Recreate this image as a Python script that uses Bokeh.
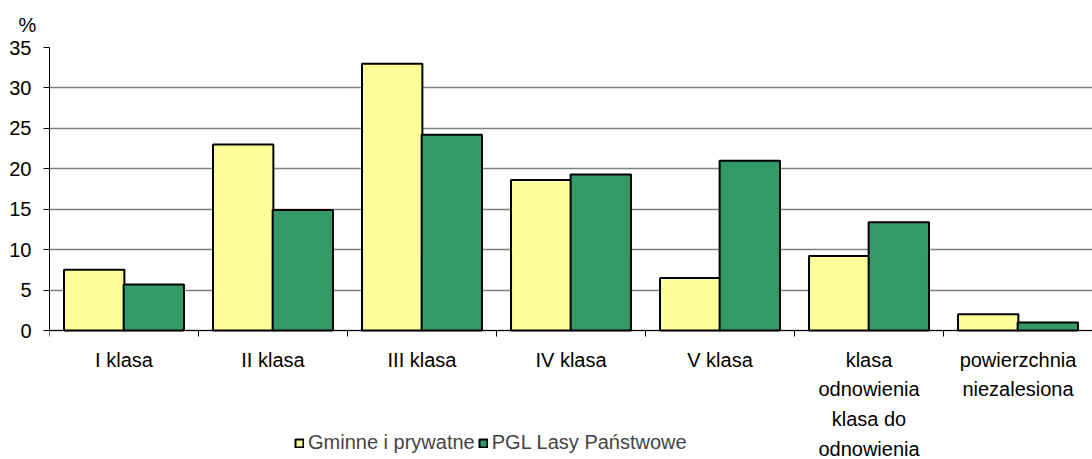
from bokeh.plotting import figure
from bokeh.models import FixedTicker, Legend, LegendItem, ColumnDataSource, Range1d, Title
from bokeh.transform import dodge
from bokeh.embed import file_html
from bokeh.resources import INLINE

categories = ["I klasa", "II klasa", "III klasa", "IV klasa", "V klasa",
              "klasa\nodnowienia\nklasa do\nodnowienia", "powierzchnia\nniezalesiona"]
gminne = [7.5, 23.0, 33.0, 18.6, 6.5, 9.2, 2.0]
pgl = [5.7, 14.9, 24.2, 19.3, 21.0, 13.4, 1.0]
series_names = ["Gminne i prywatne", "PGL Lasy Państwowe"]
y_ticks = [0, 5, 10, 15, 20, 25, 30, 35]
y_unit = "%"

FONT = "Liberation Sans"
FS = "20px"
YELLOW = "#FFFF99"
GREEN = "#339966"

# layout: plot area 283 px tall for 0..35, frame extended down to the page bottom
PLOT_H = 283
FRAME_H = 413
y_top = y_ticks[-1]
y_start = -y_top * (FRAME_H - PLOT_H) / PLOT_H

idx = list(range(len(categories)))
src = ColumnDataSource(dict(x=idx, g=gminne, p=pgl))

p = figure(frame_width=1043, frame_height=FRAME_H, output_backend="svg", toolbar_location=None,
           x_range=Range1d(-0.5, len(categories) - 0.5), y_range=Range1d(y_start, y_top),
           min_border_left=49, min_border_right=0, min_border_top=46, min_border_bottom=0)
p.outline_line_color = None
p.background_fill_color = "white"
p.border_fill_color = "white"

title = Title(text=y_unit, align="left", offset=-31, standoff=23,
              text_font=FONT, text_font_size=FS, text_font_style="normal", text_color="black")
p.add_layout(title, "above")

r1 = p.vbar(x=dodge("x", -0.2, range=p.x_range), top="g", width=0.405, source=src,
            fill_color=YELLOW, line_color="black", line_width=2)
r2 = p.vbar(x=dodge("x", 0.2, range=p.x_range), top="p", width=0.405, source=src,
            fill_color=GREEN, line_color="black", line_width=2)

# y axis
ya = p.yaxis[0]
ya.ticker = FixedTicker(ticks=y_ticks, minor_ticks=[])
ya.bounds = (0, y_top)
ya.major_tick_out = 6
ya.major_tick_in = 0
ya.minor_tick_out = 0
ya.minor_tick_in = 0
ya.axis_line_color = "black"
ya.major_tick_line_color = "black"
ya.major_label_text_font = FONT
ya.major_label_text_font_size = FS
ya.major_label_text_color = "black"
ya.major_label_standoff = 12

# x axis, drawn at y = 0
xa = p.xaxis[0]
xa.fixed_location = 0
xa.ticker = FixedTicker(ticks=idx, minor_ticks=[i - 0.5 for i in range(len(categories) + 1)])
xa.major_label_overrides = {i: c for i, c in zip(idx, categories)}
xa.major_tick_out = 0
xa.major_tick_in = 0
xa.minor_tick_out = 6
xa.minor_tick_in = 0
xa.minor_tick_line_color = "black"
xa.axis_line_color = "black"
xa.major_label_text_font = FONT
xa.major_label_text_font_size = FS
xa.major_label_text_color = "black"
xa.major_label_standoff = 12
xa.major_label_text_line_height = 1.35

p.xgrid.grid_line_color = None
p.ygrid.grid_line_color = "#808080"
p.ygrid.grid_line_width = 1.5

legend = Legend(items=[LegendItem(label=series_names[0], renderers=[r1]),
                       LegendItem(label=series_names[1], renderers=[r2])],
                orientation="horizontal", location=(245, 6))
legend.border_line_color = None
legend.background_fill_alpha = 0
legend.glyph_width = 10
legend.glyph_height = 10
legend.label_height = 10
legend.label_text_font = FONT
legend.label_text_font_size = FS
legend.label_text_baseline = "middle"
legend.label_standoff = 4
legend.spacing = 3
legend.padding = 0
legend.margin = 0
p.add_layout(legend, "center")

open("out.html", "w").write(file_html(p, INLINE))
